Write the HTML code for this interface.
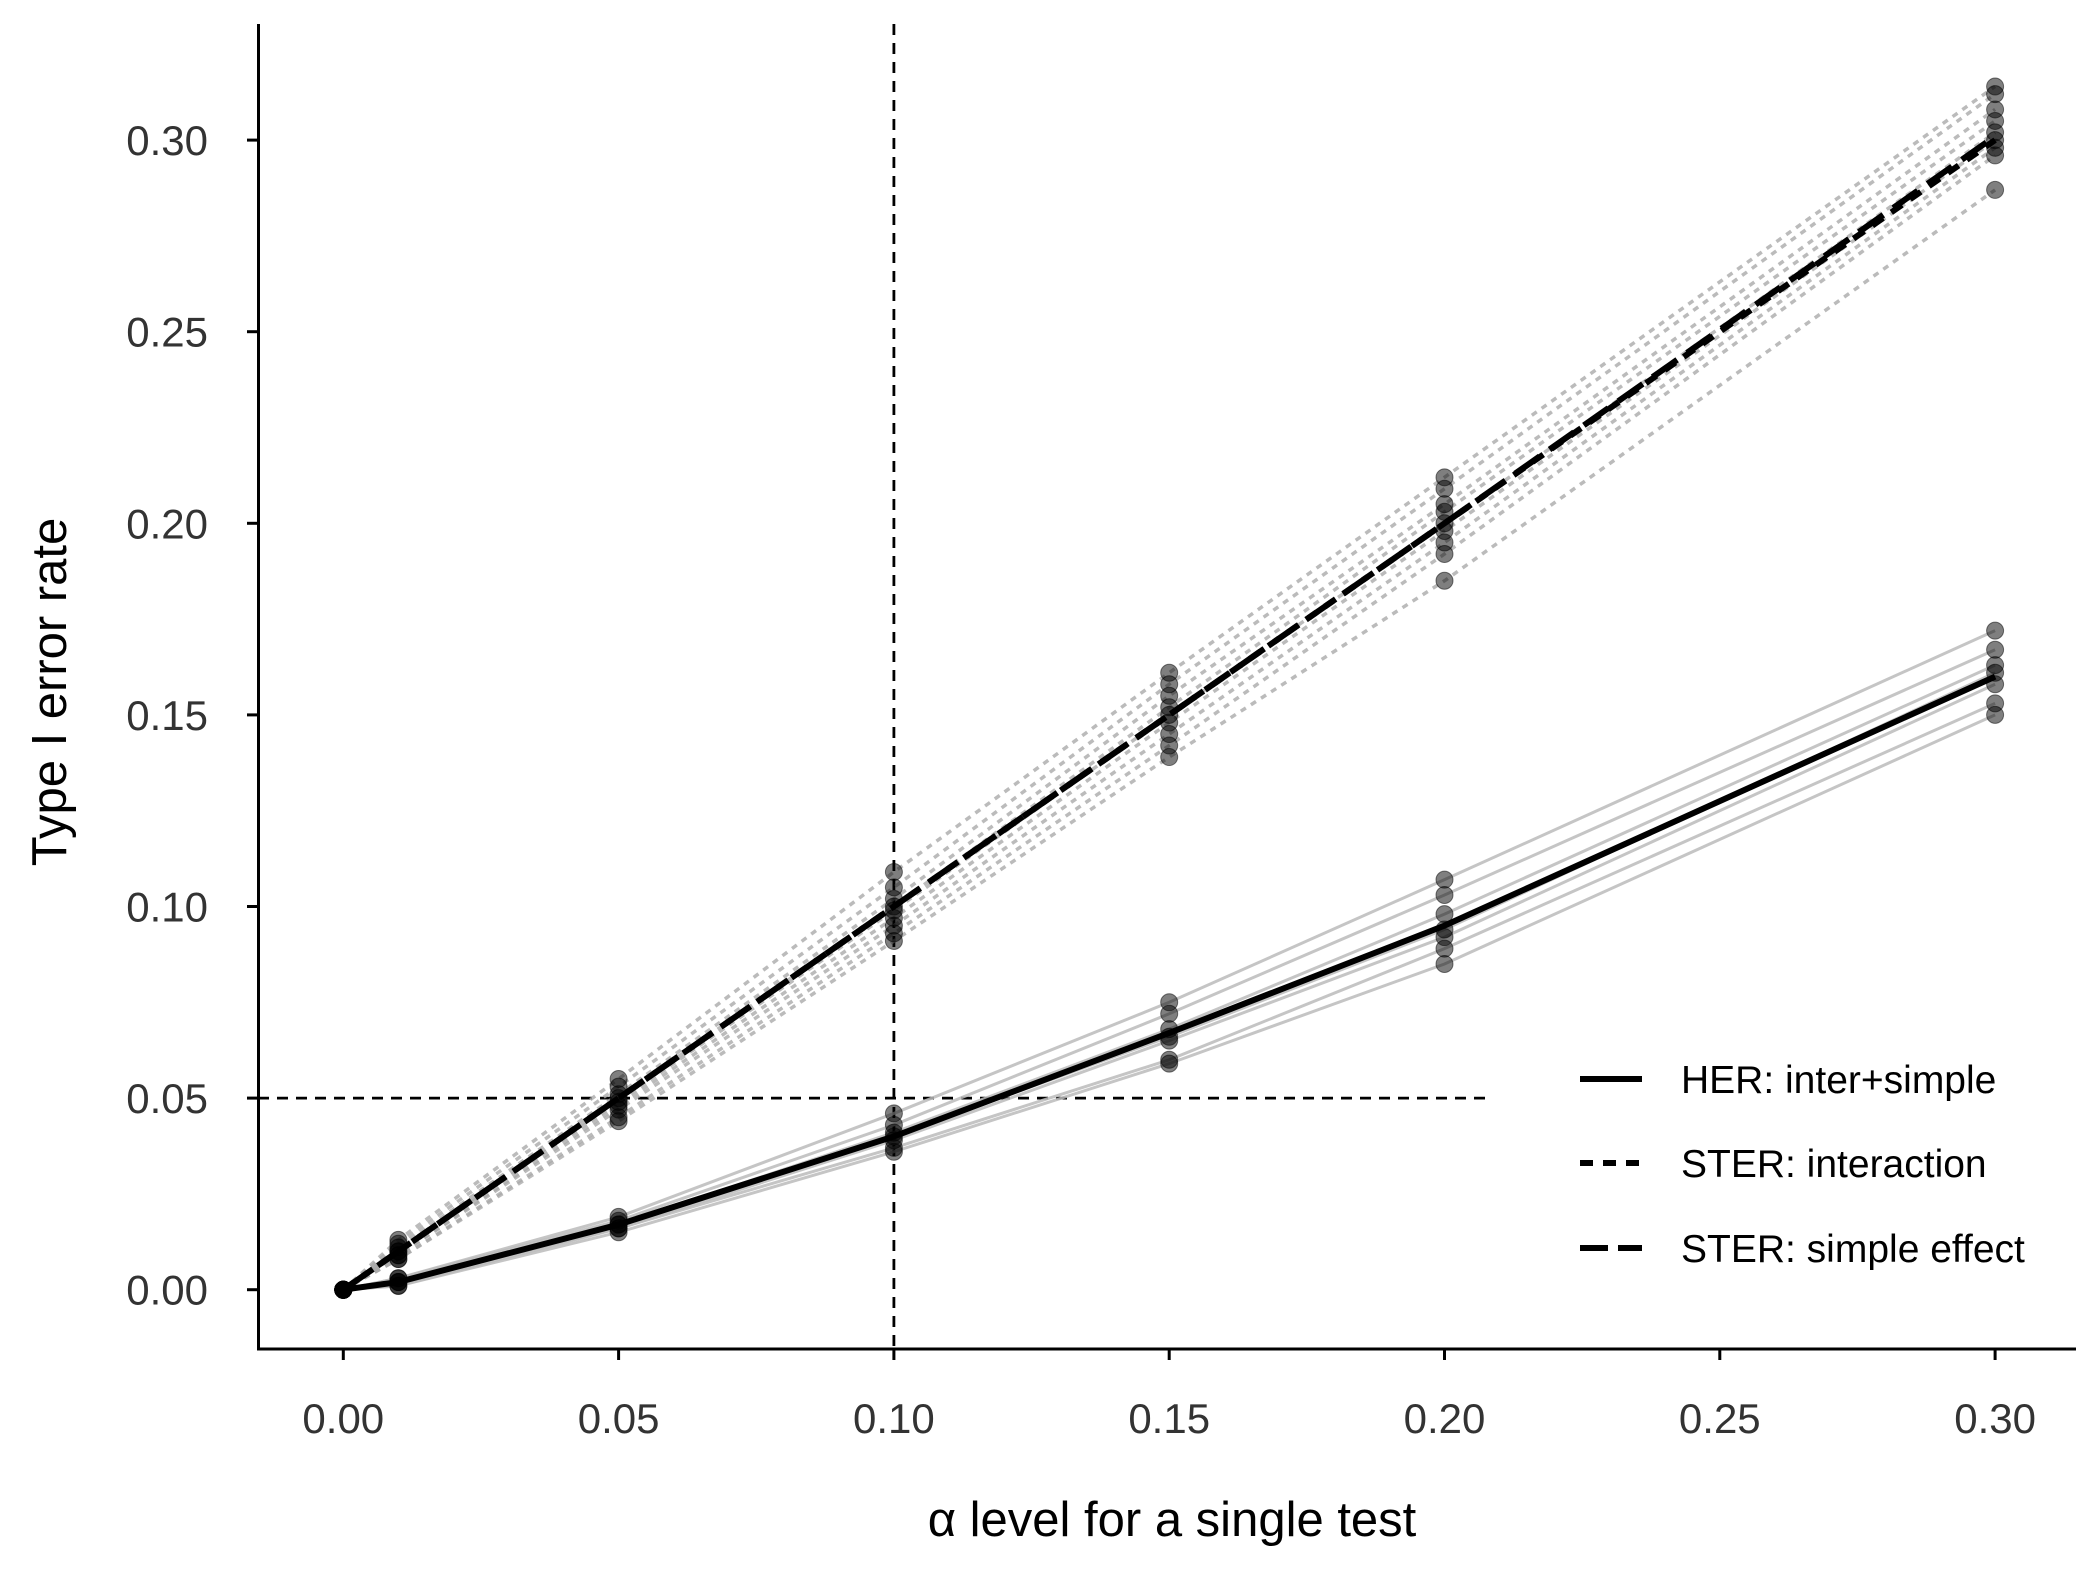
<!DOCTYPE html>
<html><head><meta charset="utf-8"><style>
html,body{margin:0;padding:0;background:#fff;}
svg{display:block;font-family:"Liberation Sans",sans-serif;}
</style></head><body>
<svg id="chart" width="2100" height="1575" viewBox="0 0 2100 1575" xmlns="http://www.w3.org/2000/svg">
<g id="grid"></g><g id="reps"></g><g id="means"></g><g id="pts"></g><g id="axes"></g><g id="legend"></g>
</svg>
<script>
const alphas=[0,0.01,0.05,0.10,0.15,0.20,0.30];
const herMean=[0,0.002,0.017,0.040,0.067,0.095,0.160];
const sterInter=[0,0.010,0.050,0.100,0.150,0.200,0.300];
const sterSimple=[0,0.010,0.050,0.100,0.150,0.200,0.301];
const herReps=[
[0,0.003,0.019,0.046,0.075,0.107,0.172],
[0,0.003,0.018,0.043,0.072,0.103,0.167],
[0,0.002,0.017,0.041,0.068,0.098,0.163],
[0,0.002,0.017,0.040,0.066,0.094,0.161],
[0,0.002,0.016,0.039,0.065,0.092,0.158],
[0,0.001,0.016,0.037,0.060,0.089,0.153],
[0,0.001,0.015,0.036,0.059,0.085,0.150]];
const sterReps=[
[0,0.013,0.055,0.109,0.161,0.212,0.314],
[0,0.012,0.053,0.105,0.158,0.209,0.312],
[0,0.011,0.051,0.102,0.155,0.205,0.308],
[0,0.010,0.050,0.100,0.152,0.203,0.305],
[0,0.010,0.049,0.099,0.150,0.200,0.302],
[0,0.009,0.048,0.097,0.148,0.198,0.300],
[0,0.009,0.047,0.095,0.145,0.195,0.298],
[0,0.008,0.045,0.093,0.142,0.192,0.296],
[0,0.008,0.044,0.091,0.139,0.185,0.287]];
const xTicks=[0,0.05,0.10,0.15,0.20,0.25,0.30];
const yTicks=[0,0.05,0.10,0.15,0.20,0.25,0.30];
const refX=0.10, refY=0.05, refYEnd=0.208;
const NS="http://www.w3.org/2000/svg";
const X=v=>343.3+v/0.05*275.3;
const Y=v=>1289.7-v/0.05*191.6;
function mk(tag,attrs,parent){const e=document.createElementNS(NS,tag);for(const k in attrs)e.setAttribute(k,attrs[k]);document.getElementById(parent).appendChild(e);return e;}
function pts(arr){return arr.map((v,i)=>X(alphas[i])+','+Y(v)).join(' ');}
let e=mk('line',{x1:X(refX),x2:X(refX),y1:24,y2:1349,stroke:'#000','stroke-width':2.8,'stroke-dasharray':'11,8'},'grid');

e=mk('line',{x1:258,x2:X(refYEnd),y1:Y(refY),y2:Y(refY),stroke:'#000','stroke-width':2.8,'stroke-dasharray':'11,8'},'grid');

herReps.forEach(r=>{const l=mk('polyline',{points:pts(r),fill:'none',stroke:'#bbb','stroke-width':3,opacity:0.85},'reps');
});
sterReps.forEach(r=>{const l=mk('polyline',{points:pts(r),fill:'none',stroke:'#aaa','stroke-width':3.5,'stroke-dasharray':'6,6',opacity:0.8},'reps');
});
e=mk('polyline',{points:pts(sterInter),fill:'none',stroke:'#000','stroke-width':6,'stroke-dasharray':'13,10'},'means');

e=mk('polyline',{points:pts(sterSimple),fill:'none',stroke:'#000','stroke-width':6,'stroke-dasharray':'30,12'},'means');

e=mk('polyline',{points:pts(herMean),fill:'none',stroke:'#000','stroke-width':6},'means');

herReps.concat(sterReps).forEach(r=>r.forEach((v,i)=>{const c=mk('circle',{cx:X(alphas[i]),cy:Y(v),r:8.5,fill:'#000','fill-opacity':0.5,stroke:'#000','stroke-opacity':0.5,'stroke-width':1},'pts');
}));
e=mk('line',{x1:258.5,x2:258.5,y1:24,y2:1350,stroke:'#000','stroke-width':3},'axes');

e=mk('line',{x1:257,x2:2076,y1:1349,y2:1349,stroke:'#000','stroke-width':3},'axes');

xTicks.forEach(t=>{const l=mk('line',{x1:X(t),x2:X(t),y1:1349,y2:1360,stroke:'#000','stroke-width':3},'axes');

const s=mk('text',{x:X(t),y:1433,'text-anchor':'middle','font-size':42,fill:'#333'},'axes');s.textContent=t.toFixed(2);
});
yTicks.forEach(t=>{const l=mk('line',{x1:247,x2:258,y1:Y(t),y2:Y(t),stroke:'#000','stroke-width':3},'axes');

const s=mk('text',{x:208,y:Y(t)+15,'text-anchor':'end','font-size':42,fill:'#333'},'axes');s.textContent=t.toFixed(2);
});
e=mk('text',{x:1172,y:1536,'text-anchor':'middle','font-size':49,fill:'#000'},'axes');e.textContent='α level for a single test';

e=mk('text',{x:0,y:0,'text-anchor':'middle','font-size':49,fill:'#000',transform:'translate(66,692) rotate(-90)'},'axes');e.textContent='Type I error rate';

const leg=[['HER: inter+simple',null,1079],['STER: interaction','13,10',1163],['STER: simple effect','28,10',1248]];
leg.forEach(([lab,d,y])=>{const a={x1:1580,x2:1642,y1:y,y2:y,stroke:'#000','stroke-width':6};if(d)a['stroke-dasharray']=d;
const l=mk('line',a,'legend');
const s=mk('text',{x:1681,y:y+14,'font-size':39,fill:'#000'},'legend');s.textContent=lab;
});
</script>
</body></html>
